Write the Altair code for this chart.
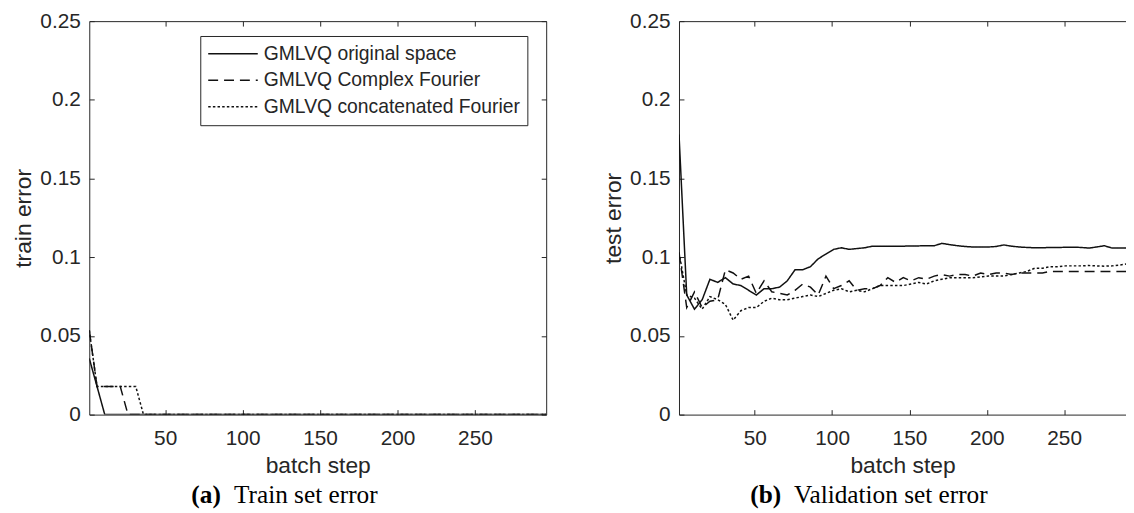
import altair as alt
import pandas as pd

# ---------------- data ----------------
steps = [1, 6, 11, 16, 21, 26, 31, 36, 41, 46, 51, 56, 61, 66, 71, 76, 81, 86, 91, 96,
         101, 106, 111, 116, 121, 126, 131, 136, 141, 146, 151, 156, 161, 166, 171, 176, 181, 186, 191, 196,
         201, 206, 211, 216, 221, 226, 231, 236, 241, 246, 251, 256, 261, 266, 271, 276, 281, 286, 291, 296]

series_names = ["GMLVQ original space", "GMLVQ Complex Fourier", "GMLVQ concatenated Fourier"]

train_original = [0.0357, 0.0179, 0, 0, 0, 0, 0, 0, 0, 0, 0, 0, 0, 0, 0, 0, 0, 0, 0, 0,
                  0, 0, 0, 0, 0, 0, 0, 0, 0, 0, 0, 0, 0, 0, 0, 0, 0, 0, 0, 0,
                  0, 0, 0, 0, 0, 0, 0, 0, 0, 0, 0, 0, 0, 0, 0, 0, 0, 0, 0, 0]
train_complex = [0.0536, 0.0179, 0.0179, 0.0179, 0.0179, 0, 0, 0, 0, 0, 0, 0, 0, 0, 0, 0, 0, 0, 0, 0,
                 0, 0, 0, 0, 0, 0, 0, 0, 0, 0, 0, 0, 0, 0, 0, 0, 0, 0, 0, 0,
                 0, 0, 0, 0, 0, 0, 0, 0, 0, 0, 0, 0, 0, 0, 0, 0, 0, 0, 0, 0]
train_concat = [0.0536, 0.0179, 0.0179, 0.0179, 0.0179, 0.0179, 0.0179, 0, 0, 0, 0, 0, 0, 0, 0, 0, 0, 0, 0, 0,
                0, 0, 0, 0, 0, 0, 0, 0, 0, 0, 0, 0, 0, 0, 0, 0, 0, 0, 0, 0,
                0, 0, 0, 0, 0, 0, 0, 0, 0, 0, 0, 0, 0, 0, 0, 0, 0, 0, 0, 0]

test_original = [0.178, 0.076, 0.067, 0.073, 0.086, 0.084, 0.087, 0.083, 0.082, 0.079,
                 0.076, 0.080, 0.080, 0.081, 0.085, 0.092, 0.092, 0.094, 0.099, 0.102,
                 0.105, 0.106, 0.105, 0.1055, 0.106, 0.107, 0.107, 0.107, 0.107, 0.107,
                 0.1072, 0.1072, 0.1073, 0.1073, 0.1088, 0.108, 0.1073, 0.1068, 0.1065, 0.1065,
                 0.1065, 0.1068, 0.1078, 0.107, 0.1065, 0.1062, 0.106, 0.106, 0.1062, 0.1062,
                 0.1063, 0.1064, 0.1062, 0.1058, 0.1065, 0.1073, 0.1058, 0.1058, 0.1058, 0.1058]
test_complex = [0.103, 0.068, 0.078, 0.068, 0.072, 0.073, 0.092, 0.090, 0.086, 0.088,
                0.077, 0.085, 0.078, 0.077, 0.076, 0.079, 0.083, 0.081, 0.076, 0.088,
                0.080, 0.082, 0.085, 0.079, 0.080, 0.080, 0.082, 0.087, 0.084, 0.087,
                0.085, 0.087, 0.086, 0.088, 0.089, 0.088, 0.089, 0.089, 0.088, 0.090,
                0.089, 0.090, 0.090, 0.089, 0.090, 0.090, 0.090, 0.090, 0.091, 0.091,
                0.091, 0.091, 0.091, 0.091, 0.091, 0.091, 0.091, 0.091, 0.091, 0.091]
test_concat = [0.103, 0.076, 0.074, 0.067, 0.075, 0.073, 0.070, 0.060, 0.066, 0.068,
               0.068, 0.072, 0.074, 0.073, 0.073, 0.074, 0.075, 0.076, 0.075, 0.077,
               0.079, 0.080, 0.078, 0.079, 0.078, 0.080, 0.082, 0.082, 0.082, 0.082,
               0.083, 0.084, 0.083, 0.085, 0.086, 0.087, 0.087, 0.087, 0.087, 0.0875,
               0.088, 0.088, 0.088, 0.089, 0.090, 0.091, 0.093, 0.093, 0.094, 0.094,
               0.0945, 0.0945, 0.0945, 0.0947, 0.0945, 0.0943, 0.0945, 0.095, 0.0958, 0.096]

x_ticks = [50, 100, 150, 200, 250]
y_ticks = [0, 0.05, 0.1, 0.15, 0.2, 0.25]


def long_df(values_list):
    rows = []
    for name, vals in zip(series_names, values_list):
        for s, v in zip(steps, vals):
            rows.append({"step": s, "error": v, "series": name})
    return pd.DataFrame(rows)


FONT = "Liberation Sans"
SERIF = "Liberation Serif"
INK = "#262626"
LINE = "#111111"
H = 397
PX_PER_STEP = 1.5615


def panel(df, ylabel, xmax, tag, caption, tag_x, cap_x, legend_x, show_right):
    width = round((xmax - 1) * PX_PER_STEP)
    xs = alt.Scale(domain=[1, xmax], nice=False, zero=False)
    ys = alt.Scale(domain=[0, 0.25], nice=False, zero=False)
    base = alt.Chart(df)

    legend = alt.Legend(
        orient="none", legendX=legend_x, legendY=15, title=None,
        symbolType="stroke", symbolSize=2500, clipHeight=22, rowPadding=4.7,
        padding=7, labelFontSize=19.5, labelFont=FONT, labelColor=INK,
        labelOffset=5, strokeColor=INK, fillColor="white",
        symbolStrokeColor=LINE, labelLimit=400,
    )

    lines = base.mark_line(clip=True, color=LINE).encode(
        x=alt.X("step:Q", scale=xs,
                axis=alt.Axis(orient="bottom", values=x_ticks, title="batch step",
                              ticks=False, domain=True, labelPadding=13, titlePadding=6)),
        y=alt.Y("error:Q", scale=ys,
                axis=alt.Axis(orient="left", values=y_ticks, format="~g", title=ylabel,
                              ticks=False, domain=True, labelPadding=9, titlePadding=4)),
        strokeDash=alt.StrokeDash("series:N",
                                  scale=alt.Scale(domain=series_names,
                                                  range=[[1, 0], [10, 6], [2.5, 2.2]]),
                                  legend=legend),
        strokeWidth=alt.StrokeWidth("series:N",
                                    scale=alt.Scale(domain=series_names, range=[1.5, 1.5, 3]),
                                    legend=legend),
    )

    frame = base.mark_point(opacity=0, clip=True).encode(
        x=alt.X("step:Q", scale=xs,
                axis=alt.Axis(orient="top", labels=False, ticks=False, domain=True, title=None)),
        y=(alt.Y("error:Q", scale=ys,
                 axis=alt.Axis(orient="right", labels=False, ticks=False, domain=True, title=None))
           if show_right else alt.Y("error:Q", scale=ys, axis=None)),
    )

    ticks_a = base.mark_point(opacity=0, clip=True).encode(
        x=alt.X("step:Q", scale=xs,
                axis=alt.Axis(orient="top", offset=-H, values=x_ticks, tickSize=5,
                              labels=False, domain=False, title=None)),
        y=alt.Y("error:Q", scale=ys,
                axis=alt.Axis(orient="right", offset=-width, values=y_ticks, tickSize=5,
                              labels=False, domain=False, title=None)),
    )

    ticks_b = base.mark_point(opacity=0, clip=True).encode(
        x=alt.X("step:Q", scale=xs,
                axis=alt.Axis(orient="bottom", offset=-H, values=x_ticks, tickSize=5,
                              labels=False, domain=False, title=None)),
        y=(alt.Y("error:Q", scale=ys,
                 axis=alt.Axis(orient="left", offset=-width, values=y_ticks, tickSize=5,
                               labels=False, domain=False, title=None))
           if show_right else alt.Y("error:Q", scale=ys, axis=None)),
    )

    cap_df = pd.DataFrame({"tag": [tag], "caption": [caption]})
    tag_text = alt.Chart(cap_df).mark_text(
        font=SERIF, fontWeight="bold", fontSize=25.5, align="left", baseline="alphabetic", color="black"
    ).encode(text="tag:N", x=alt.value(tag_x), y=alt.value(486.5))
    cap_text = alt.Chart(cap_df).mark_text(
        font=SERIF, fontSize=25.5, align="left", baseline="alphabetic", color="black"
    ).encode(text="caption:N", x=alt.value(cap_x), y=alt.value(486.5))

    return alt.layer(lines, frame, ticks_a, ticks_b, tag_text, cap_text).resolve_axis(
        x="independent", y="independent"
    ).properties(width=width, height=H)


left = panel(long_df([train_original, train_complex, train_concat]), "train error", 296,
             "(a)", "Train set error", 103, 146, 112, True)
right = panel(long_df([test_original, test_complex, test_concat]), "test error", 290,
              "(b)", "Validation set error", 72, 116, 111, False)

chart = alt.hconcat(left, right, spacing=56).properties(
    padding={"left": 5, "top": 0, "right": 0, "bottom": 0}
).configure_view(stroke=None).configure_axis(
    labelFont=FONT, labelFontSize=21, labelColor=INK,
    titleFont=FONT, titleFontSize=23, titleFontWeight="normal", titleColor=INK,
    domainColor=INK, tickColor=INK, domainWidth=1, tickWidth=1, grid=False,
).configure_legend(symbolType="stroke")

chart.save("out.html", embed_options={"renderer": "svg", "actions": False})
